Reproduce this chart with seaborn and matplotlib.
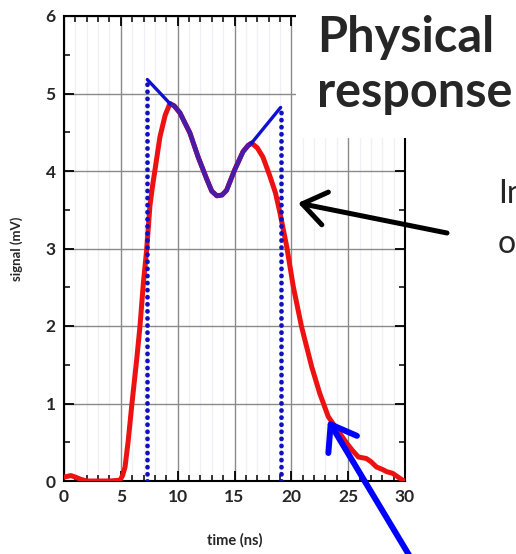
import matplotlib
matplotlib.use("Agg")
import matplotlib.pyplot as plt
import seaborn as sns
import numpy as np
import pandas as pd
from matplotlib.patches import Rectangle, FancyArrowPatch

# ---- data ----
time_ns = [0.0, 0.3, 0.6, 1.0, 1.5, 2.0, 3.0, 4.0, 4.93, 5.15, 5.37, 5.65, 5.95, 6.39, 6.68,
           6.98, 7.27, 7.56, 7.8, 8.0, 8.44, 8.9, 9.32, 9.7, 10.2, 11.08, 11.8, 12.6,
           13.0, 13.45, 13.9, 14.3, 15.0, 15.75, 16.2, 16.5, 17.0, 17.5, 18.1, 18.6,
           19.0, 19.6, 20.17, 20.9, 21.8, 22.5, 23.25, 24.0, 24.86, 25.4, 25.9, 26.6,
           27.0, 27.5, 28.0, 28.4, 28.9, 29.3, 29.8, 30.0]
signal_mV = [0.05, 0.06, 0.07, 0.05, 0.02, 0.0, 0.0, 0.0, 0.01, 0.07, 0.18, 0.52, 0.96, 1.56, 1.99,
             2.55, 2.98, 3.55, 3.82, 4.01, 4.44, 4.72, 4.87, 4.84, 4.75, 4.49, 4.18, 3.88,
             3.74, 3.68, 3.69, 3.75, 4.01, 4.25, 4.33, 4.36, 4.3, 4.18, 3.94, 3.72,
             3.46, 3.02, 2.51, 1.99, 1.47, 1.13, 0.83, 0.67, 0.49, 0.39, 0.31, 0.29,
             0.25, 0.18, 0.15, 0.12, 0.1, 0.06, 0.01, 0.0]

# overlap part (blue over red -> purple)
overlay_t = [9.32, 9.7, 10.2, 11.08, 11.8, 12.6, 13.0, 13.45, 13.9, 14.3, 15.0, 15.75, 16.2, 16.5]
overlay_s = [4.87, 4.84, 4.75, 4.49, 4.18, 3.88, 3.74, 3.68, 3.69, 3.75, 4.01, 4.25, 4.33, 4.36]

# blue tangent segments
tan1_t = [7.33, 9.32]
tan1_s = [5.18, 4.87]
tan2_t = [16.5, 19.06]
tan2_s = [4.36, 4.82]

# vertical dotted markers
vline_t = [7.33, 19.06]
vline_top = [5.18, 4.82]

x_ticks = [0, 5, 10, 15, 20, 25, 30]
y_ticks = [0, 1, 2, 3, 4, 5, 6]

# ---- figure ----
sns.set_style("white")
plt.rcParams['font.family'] = ['Lato', 'DejaVu Sans']

W, H = 516, 554
fig = plt.figure(figsize=(W / 100, H / 100), dpi=100)
ax = fig.add_axes([64 / W, 1 - 481 / H, (405 - 64) / W, (481 - 16) / H])

red_df = pd.DataFrame({"time": time_ns, "signal": signal_mV})
sns.lineplot(data=red_df, x="time", y="signal", ax=ax, color="#ee1111",
             linewidth=3.6, sort=False, zorder=3, estimator=None)
sns.lineplot(x=overlay_t, y=overlay_s, ax=ax, color="#4a1aa8", linewidth=3.4,
             sort=False, zorder=4, estimator=None)
sns.lineplot(x=tan1_t, y=tan1_s, ax=ax, color="#1010d0", linewidth=2.4,
             sort=False, zorder=4, estimator=None)
sns.lineplot(x=tan2_t, y=tan2_s, ax=ax, color="#1010d0", linewidth=2.4,
             sort=False, zorder=4, estimator=None)
for t, top in zip(vline_t, vline_top):
    ax.plot([t, t], [0, top], color="#1010c0", linewidth=3.4,
            linestyle=(0, (0.05, 1.45)), dash_capstyle="round", zorder=5)

ax.set_xlim(0, 30)
ax.set_ylim(0, 6)
ax.set_xticks(x_ticks)
ax.set_yticks(y_ticks)
ax.set_xticks(np.arange(0, 31, 1), minor=True)
ax.set_yticks(np.arange(0, 6.01, 0.5), minor=True)
ax.grid(True, which="major", color="#8a8a8a", linewidth=1.0, zorder=1)
ax.grid(True, which="minor", axis="x", color="#f1f0f6", linewidth=1.0, zorder=0)
ax.tick_params(which="both", direction="in", top=True, right=True,
               bottom=True, left=True, color="black")
ax.tick_params(which="major", length=7, width=1.3, labelsize=12.5, pad=6)
ax.tick_params(which="minor", length=4, width=1.1)
for lab in ax.get_xticklabels() + ax.get_yticklabels():
    lab.set_fontweight("bold")
for sp in ax.spines.values():
    sp.set_color("black")
    sp.set_linewidth(1.5)
ax.set_xlabel("time (ns)", fontsize=10.5, fontweight="bold", labelpad=20)
ax.set_ylabel("signal (mV)", fontsize=9.5, fontweight="bold", labelpad=16)

# white box covering the upper-right corner (slide title area)
fig.add_artist(Rectangle((296 / W, 1 - 138 / H), (W - 296) / W, 138 / H,
                         transform=fig.transFigure, facecolor="white",
                         edgecolor="none", zorder=5))
fig.text(317 / W, 1 - 52 / H, "Physical", fontsize=35, fontweight="bold",
         va="baseline", ha="left", zorder=6)
fig.text(317 / W, 1 - 107 / H, "response", fontsize=35, fontweight="bold",
         va="baseline", ha="left", zorder=6)
fig.text(498 / W, 1 - 203 / H, "In", fontsize=23, va="baseline", ha="left", zorder=6)
fig.text(498 / W, 1 - 253 / H, "o", fontsize=23, va="baseline", ha="left", zorder=6)

# arrows
fig.add_artist(FancyArrowPatch((447 / W, 1 - 233 / H), (298 / W, 1 - 203 / H),
                               transform=fig.transFigure,
                               arrowstyle="->,head_length=0.42,head_width=0.3",
                               mutation_scale=40, color="black", linewidth=3.6,
                               shrinkA=0, shrinkB=0, zorder=7))
fig.add_artist(FancyArrowPatch((412 / W, 1 - 560 / H), (328 / W, 1 - 420 / H),
                               transform=fig.transFigure,
                               arrowstyle="->,head_length=0.42,head_width=0.3",
                               mutation_scale=40, color="#0000ff", linewidth=4.3,
                               shrinkA=0, shrinkB=0, zorder=7))

fig.savefig("out.png", dpi=100, facecolor="white")
